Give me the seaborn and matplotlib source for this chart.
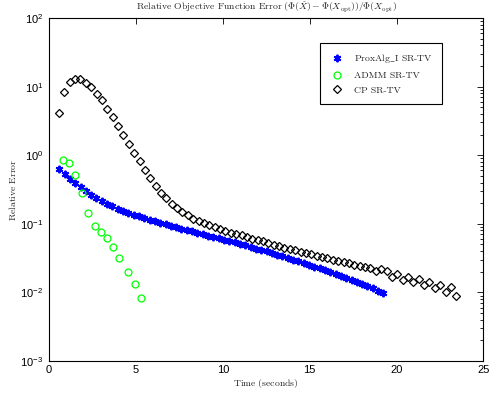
import matplotlib
matplotlib.use("Agg")
import matplotlib.pyplot as plt
import seaborn as sns
from matplotlib.ticker import LogLocator, NullFormatter, LogFormatterSciNotation

# Relative objective error vs. wall-clock time for three SR-TV solvers
prox_t = [0.59, 0.90, 1.20, 1.51, 1.82, 2.12, 2.43, 2.73, 3.04, 3.34,
          3.65, 3.96, 4.26, 4.57, 4.87, 5.18, 5.48, 5.79, 6.10, 6.40,
          6.71, 7.01, 7.32, 7.62, 7.93, 8.24, 8.54, 8.85, 9.15, 9.46,
          9.76, 10.07, 10.38, 10.68, 10.99, 11.29, 11.60, 11.90, 12.21, 12.52,
          12.82, 13.13, 13.43, 13.74, 14.04, 14.35, 14.66, 14.96, 15.27, 15.57,
          15.88, 16.18, 16.49, 16.80, 17.10, 17.41, 17.71, 18.02, 18.32, 18.63,
          18.94, 19.24]
prox_err = [0.623, 0.525, 0.451, 0.3895, 0.3393, 0.2967, 0.2603, 0.2346, 0.2142, 0.1950,
            0.1799, 0.1660, 0.1547, 0.1451, 0.1362, 0.1278, 0.1211, 0.1144, 0.1088, 0.1034,
            0.0983, 0.0938, 0.0895, 0.0854, 0.0815, 0.0777, 0.0742, 0.0708, 0.0675, 0.0644,
            0.0615, 0.0586, 0.0559, 0.0534, 0.0507, 0.0483, 0.0459, 0.0436, 0.0415, 0.0395,
            0.0374, 0.0354, 0.0336, 0.0318, 0.0301, 0.0284, 0.0268, 0.0253, 0.0238, 0.0224,
            0.0211, 0.0198, 0.0186, 0.0175, 0.0164, 0.0154, 0.0144, 0.0134, 0.0126, 0.0115,
            0.01066, 0.00983]

admm_t = [0.79, 1.16, 1.51, 1.89, 2.26, 2.62, 2.98, 3.34, 3.70, 4.05, 4.55, 4.93, 5.30]
admm_err = [0.846, 0.777, 0.514, 0.278, 0.146, 0.0929, 0.0752, 0.0621, 0.0464, 0.0317,
            0.0200, 0.01326, 0.0082]

cp_t = [0.58, 0.89, 1.19, 1.50, 1.81, 2.12, 2.43, 2.74, 3.05, 3.36,
        3.66, 3.97, 4.28, 4.59, 4.90, 5.21, 5.52, 5.83, 6.14, 6.45,
        6.75, 7.06, 7.37, 7.68, 7.99, 8.30, 8.61, 8.92, 9.23, 9.53,
        9.84, 10.15, 10.46, 10.77, 11.08, 11.39, 11.70, 12.01, 12.31, 12.62,
        12.93, 13.24, 13.55, 13.86, 14.17, 14.48, 14.79, 15.10, 15.40, 15.71,
        16.02, 16.33, 16.64, 16.95, 17.26, 17.57, 17.88, 18.18, 18.49, 18.80,
        19.11, 19.42, 19.73, 20.04, 20.35, 20.66, 20.97, 21.27, 21.58, 21.89,
        22.20, 22.51, 22.82, 23.13, 23.44]
cp_err = [4.08, 8.26, 11.56, 12.9, 12.9, 11.4, 9.97, 7.88, 6.31, 4.76,
          3.61, 2.67, 1.99, 1.47, 1.09, 0.815, 0.608, 0.460, 0.356, 0.284,
          0.234, 0.194, 0.170, 0.149, 0.133, 0.119, 0.109, 0.102, 0.0951, 0.0889,
          0.0832, 0.0793, 0.0741, 0.0710, 0.0679, 0.0635, 0.0607, 0.0581, 0.0556, 0.0520,
          0.0494, 0.0471, 0.0450, 0.0430, 0.0409, 0.0391, 0.0374, 0.0358, 0.0343, 0.0328,
          0.0314, 0.0301, 0.0287, 0.0275, 0.0264, 0.0252, 0.0243, 0.0232, 0.0227, 0.0208,
          0.0216, 0.0207, 0.0169, 0.0185, 0.0152, 0.0169, 0.0143, 0.0155, 0.0128, 0.0143,
          0.0117, 0.0129, 0.0102, 0.0119, 0.00887]

labels = ["ProxAlg$\\_$I SR-TV", "ADMM SR-TV", "CP SR-TV"]
x_ticks = [0, 5, 10, 15, 20, 25]

sns.set_theme(style="white")
plt.rcParams.update({
    "font.family": ["Liberation Sans", "DejaVu Sans"],
    "mathtext.fontset": "cm",
    "axes.formatter.use_mathtext": True,
    "axes.edgecolor": "black",
    "axes.linewidth": 0.8,
    "xtick.color": "black",
    "ytick.color": "black",
})

fig = plt.figure(figsize=(4.93, 3.93), dpi=100)
fig.patch.set_facecolor("white")
ax = fig.add_axes([0.0994, 0.0814, 0.8813, 0.8728])

sns.lineplot(x=prox_t, y=prox_err, ax=ax, estimator=None, sort=False,
             linestyle="none", marker=(6, 2, 0), markersize=5.4,
             markeredgecolor="#0000ff", markeredgewidth=1.4,
             color="#0000ff", label=labels[0])
sns.lineplot(x=admm_t, y=admm_err, ax=ax, estimator=None, sort=False,
             linestyle="none", marker="o", markersize=5.0,
             markerfacecolor="none", markeredgecolor="#00ff00",
             markeredgewidth=0.9, color="#00ff00", label=labels[1])
sns.lineplot(x=cp_t, y=cp_err, ax=ax, estimator=None, sort=False,
             linestyle="none", marker="D", markersize=3.7,
             markerfacecolor="none", markeredgecolor="black",
             markeredgewidth=0.9, color="black", label=labels[2])

ax.set_yscale("log")
ax.set_xlim(0, 25)
ax.set_ylim(1e-3, 1e2)
ax.set_xticks(x_ticks)
ax.set_xticklabels([str(v) for v in x_ticks])
ax.yaxis.set_major_locator(LogLocator(base=10, numticks=10))
ax.yaxis.set_major_formatter(LogFormatterSciNotation(base=10))
ax.yaxis.set_minor_locator(LogLocator(base=10, subs=range(2, 10), numticks=20))
ax.yaxis.set_minor_formatter(NullFormatter())
ax.tick_params(which="both", direction="in", top=True, right=True,
               labelsize=8, width=0.6)
ax.tick_params(which="major", length=4)
ax.tick_params(axis="x", which="major", pad=3)
ax.tick_params(axis="y", which="major", pad=4)
ax.tick_params(which="minor", length=2)
for s in ax.spines.values():
    s.set_visible(True)
    s.set_color("black")
    s.set_linewidth(0.8)

serif = {"family": "cmr10", "size": 7}
ax.set_title(r"$\mathrm{Relative\ Objective\ Function\ Error}\ (\Phi(\hat{X})-\Phi(X_{\mathrm{opt}}))/\Phi(X_{\mathrm{opt}})$",
             fontsize=7, pad=6)
ax.set_xlabel(r"$\mathrm{Time\ (seconds)}$", fontsize=7, labelpad=1)
ax.set_ylabel(r"$\mathrm{Relative\ Error}$", fontsize=7, labelpad=2)

leg = ax.legend(loc="upper left", bbox_to_anchor=(0.624, 0.927),
                borderaxespad=0, frameon=True, fancybox=False,
                edgecolor="black", framealpha=1, prop=serif,
                handlelength=1.6, handletextpad=0.9, borderpad=0.95,
                labelspacing=0.6)
leg.get_frame().set_linewidth(0.8)

fig.savefig("out.png", dpi=100, facecolor="white")
